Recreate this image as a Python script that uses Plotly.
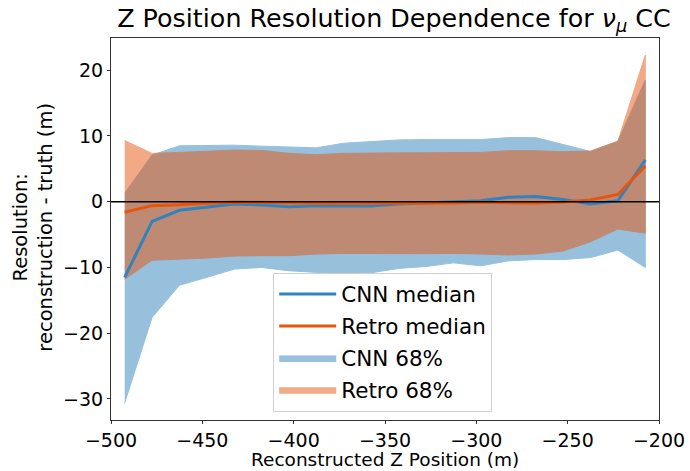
import plotly.graph_objects as go

# Bin centres of reconstructed Z position (m)
z_bins = [-492.5, -477.5, -462.5, -447.5, -432.5, -417.5, -402.5, -387.5, -372.5, -357.5,
          -342.5, -327.5, -312.5, -297.5, -282.5, -267.5, -252.5, -237.5, -222.5, -207.5]

# Median resolution (m)
cnn_median = [-11.5, -3.0, -1.3, -0.85, -0.35, -0.5, -0.75, -0.6, -0.6, -0.65,
              -0.35, -0.15, 0.05, 0.15, 0.67, 0.8, 0.35, -0.35, 0.15, 6.35]
retro_median = [-1.6, -0.6, -0.45, -0.25, -0.05, -0.1, -0.2, -0.25, -0.25, -0.25,
                -0.3, -0.2, -0.2, -0.1, -0.1, -0.2, -0.05, 0.25, 1.1, 5.45]

# 68% interval bounds (m)
cnn_upper = [1.3, 7.1, 8.5, 8.5, 8.6, 8.45, 8.28, 8.2, 8.9, 9.2,
             9.4, 9.45, 9.5, 9.45, 9.75, 9.75, 8.7, 7.65, 9.2, 18.5]
cnn_lower = [-30.6, -17.6, -12.7, -11.5, -10.25, -10.0, -10.5, -10.75, -10.9, -10.8,
             -10.15, -9.85, -9.3, -9.75, -9.0, -8.8, -8.8, -8.5, -7.35, -10.0]
retro_upper = [9.3, 7.35, 7.5, 7.65, 7.85, 7.8, 7.35, 7.15, 7.35, 7.4,
               7.4, 7.4, 7.45, 7.5, 7.75, 7.75, 7.6, 7.7, 9.2, 22.3]
retro_lower = [-11.8, -8.9, -8.7, -8.57, -8.27, -8.2, -8.2, -7.96, -7.86, -7.86,
               -7.86, -7.9, -7.86, -7.96, -8.1, -7.96, -7.5, -6.1, -4.15, -4.8]

CNN_COLOR = "#3182bd"
RETRO_COLOR = "#e6550d"
FONT = "DejaVu Sans"

fig = go.Figure()

def band(lower, upper, color, name, rank):
    return go.Scatter(
        x=z_bins + z_bins[::-1],
        y=upper + lower[::-1],
        fill="toself",
        fillcolor=color,
        opacity=0.5,
        line=dict(color=color, width=1),
        mode="lines",
        name=name,
        legendgroup=name,
        legendrank=rank,
        hoverinfo="skip",
    )

fig.add_trace(band(cnn_lower, cnn_upper, CNN_COLOR, "CNN 68%", 3))
fig.add_trace(band(retro_lower, retro_upper, RETRO_COLOR, "Retro 68%", 4))

fig.add_hline(y=0, line=dict(color="black", width=1.5))

fig.add_trace(go.Scatter(x=z_bins, y=cnn_median, mode="lines", name="CNN median",
                         legendgroup="cnn_med",
                         line=dict(color=CNN_COLOR, width=3), legendrank=1))
fig.add_trace(go.Scatter(x=z_bins, y=retro_median, mode="lines", name="Retro median",
                         legendgroup="retro_med",
                         line=dict(color=RETRO_COLOR, width=3), legendrank=2))

axis_common = dict(
    showgrid=False, zeroline=False, showline=True, linecolor="#333333", linewidth=1,
    mirror=True, ticks="outside", ticklen=3, tickcolor="#333333", automargin=False,
    tickfont=dict(family=FONT, size=19, color="black"),
)

fig.update_layout(
    width=690, height=471,
    margin=dict(l=111, r=31, t=38, b=51),
    paper_bgcolor="white", plot_bgcolor="white",
    font=dict(family=FONT, color="black"),
    title=dict(
        text="Z Position Resolution Dependence for <i>ν</i><sub><i>μ</i></sub> CC",
        font=dict(family=FONT, size=25.4),
        x=0.571, xanchor="center", y=0.962, yanchor="middle",
    ),
    xaxis=dict(range=[-500, -200], tickvals=[-500, -450, -400, -350, -300, -250, -200],
               **axis_common),
    yaxis=dict(range=[-33.2, 24.9], tickvals=[-30, -20, -10, 0, 10, 20],
               **axis_common),
    legend=dict(
        x=0.296, y=0.386, xanchor="left", yanchor="top",
        font=dict(family=FONT, size=21.5),
        bgcolor="rgba(255,255,255,0.8)", bordercolor="#d0d0d0", borderwidth=1,
        traceorder="grouped", tracegroupgap=1, itemwidth=57,
    ),
    showlegend=True,
)

# Axis titles placed as annotations relative to the plotting area
fig.add_annotation(text="Reconstructed Z Position (m)", xref="paper", yref="paper",
                   x=0.5, y=-0.104, xanchor="center", yanchor="middle", showarrow=False,
                   font=dict(family=FONT, size=18.5, color="black"))
fig.add_annotation(text="Resolution:<br>reconstruction - truth (m)", xref="paper", yref="paper",
                   x=-0.142, y=0.504, xanchor="center", yanchor="middle", showarrow=False,
                   textangle=-90, font=dict(family=FONT, size=19.5, color="black"))

fig.write_html("out.html")
